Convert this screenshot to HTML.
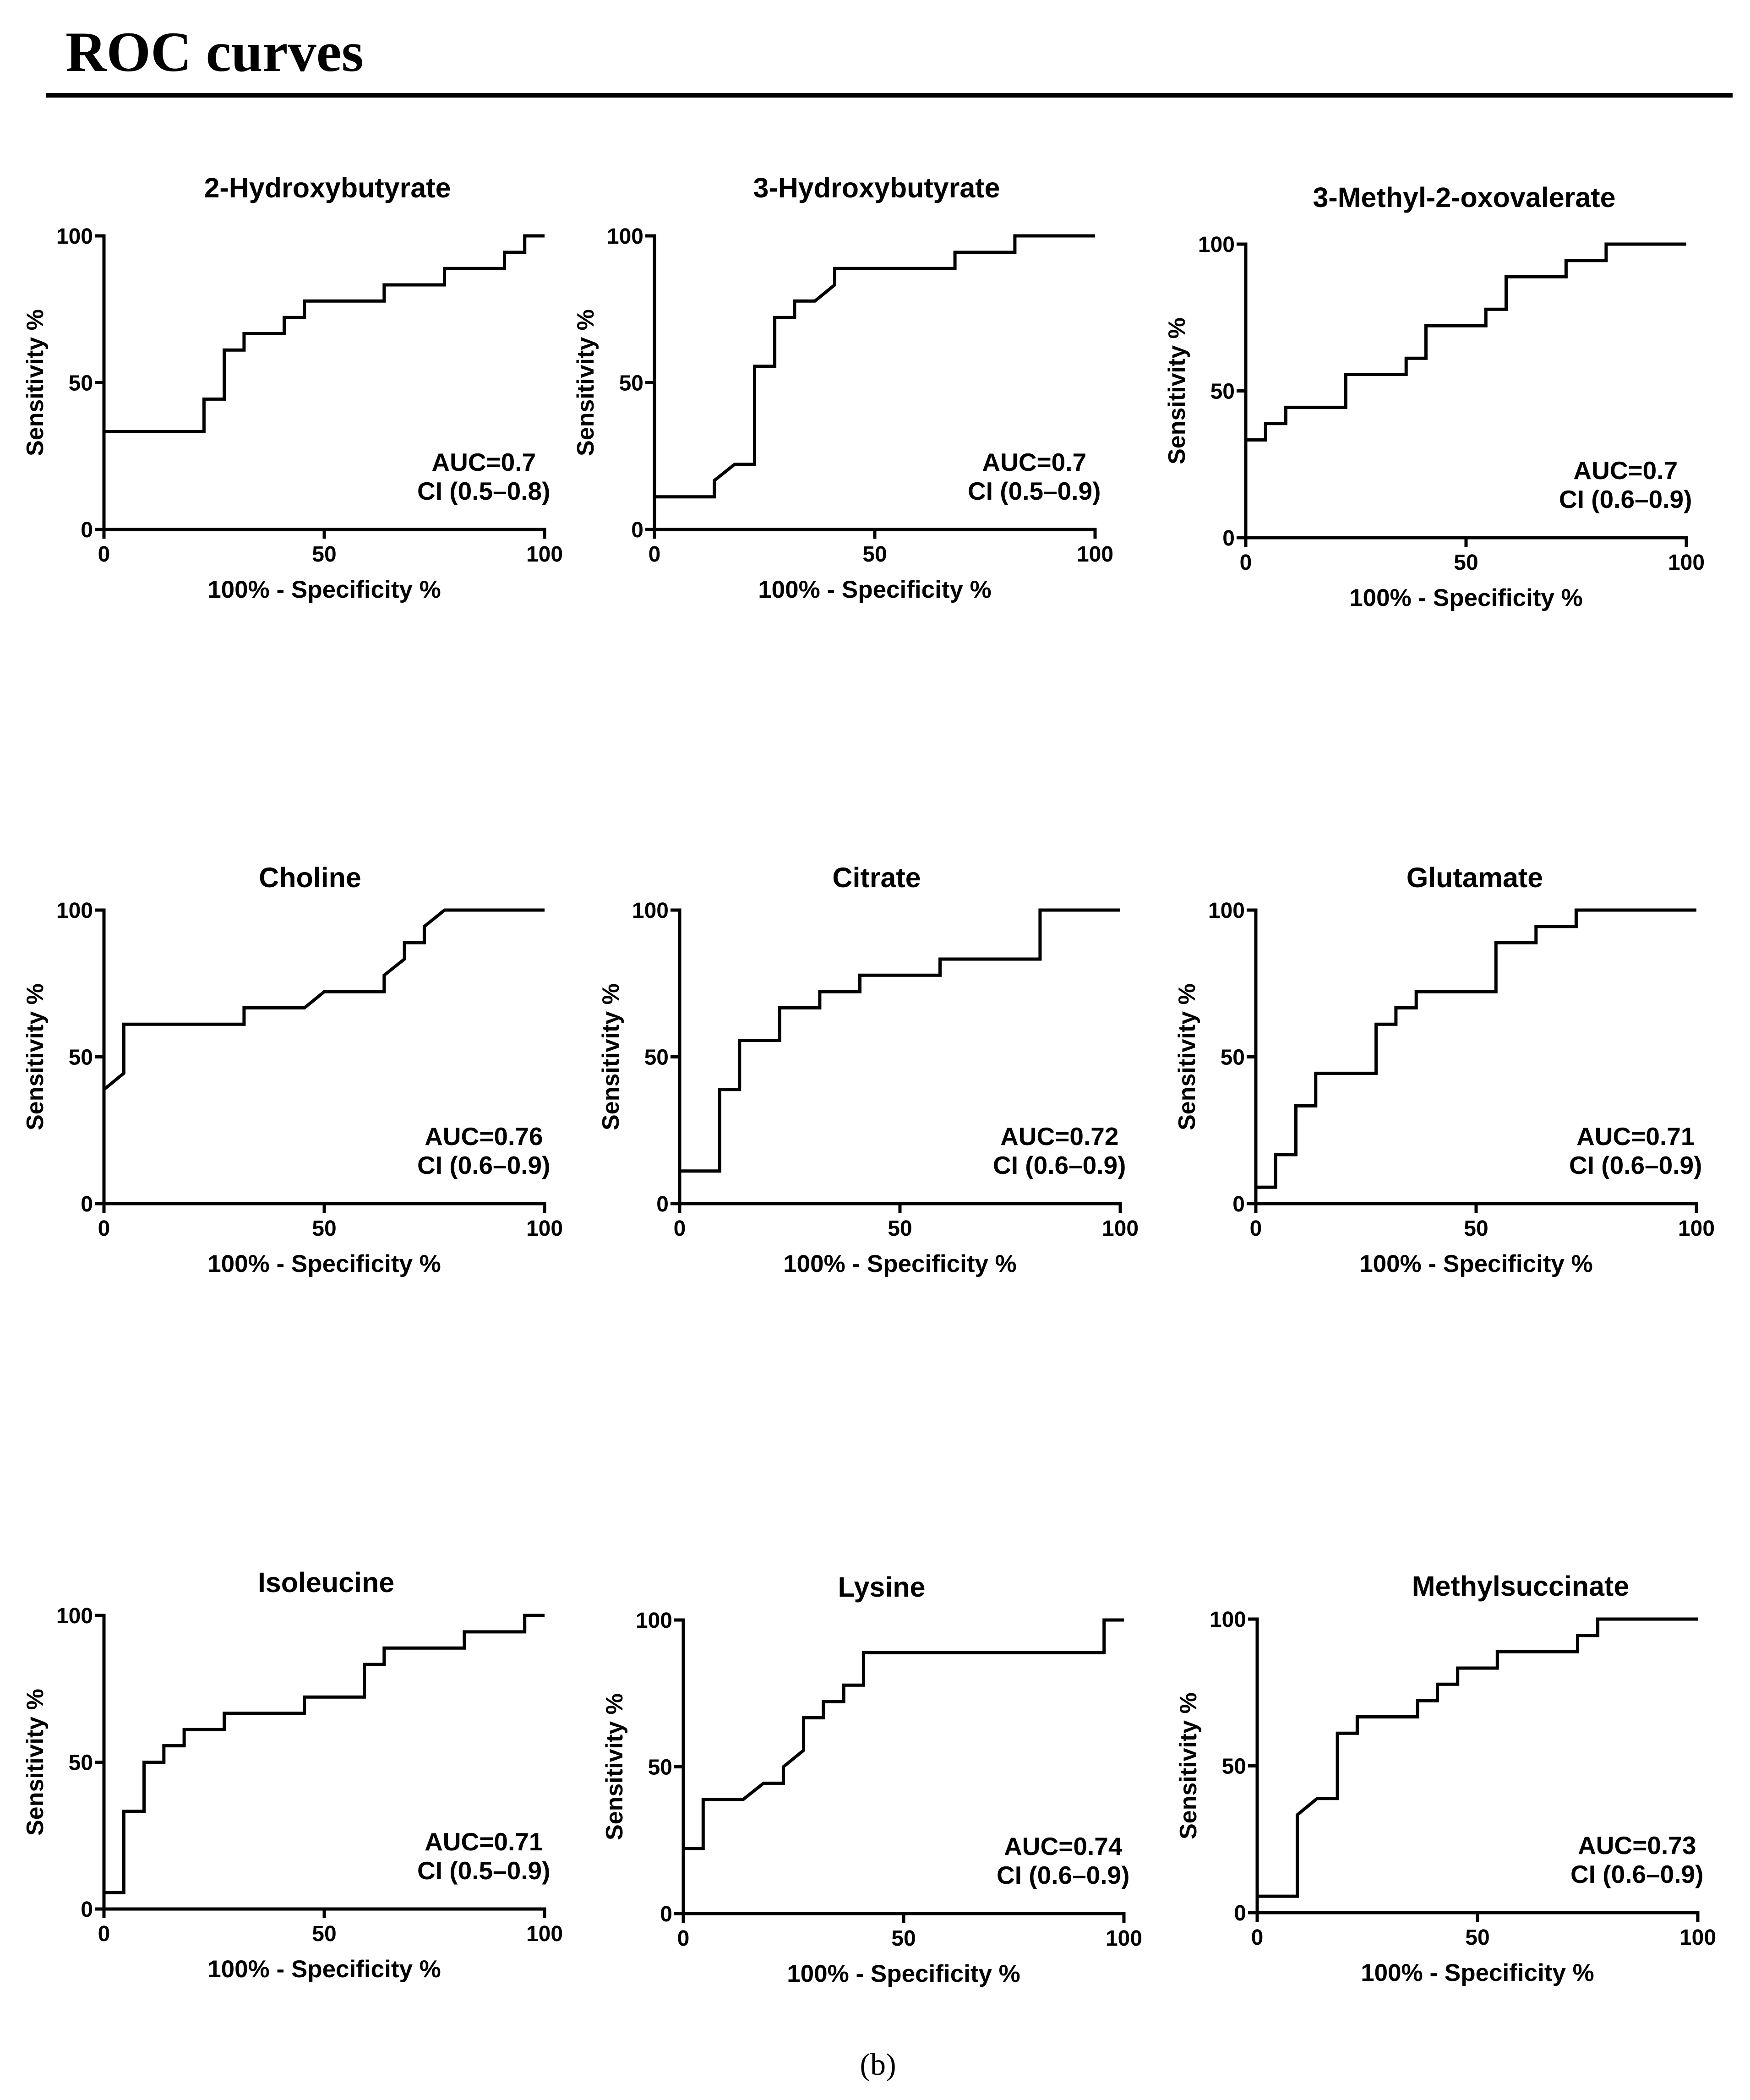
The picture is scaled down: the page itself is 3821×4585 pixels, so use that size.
<!DOCTYPE html>
<html><head><meta charset="utf-8">
<style>
html,body{margin:0;padding:0;background:#fff;}
svg{display:block;}
text{font-family:"Liberation Sans",Arial,sans-serif;font-weight:bold;fill:#000;}
.serif{font-family:"Liberation Serif","Times New Roman",serif;}
</style></head>
<body>
<svg id="fig" width="3821" height="4585" viewBox="0 0 3821 4585" xmlns="http://www.w3.org/2000/svg">
<rect width="3821" height="4585" fill="#fff"/>
<text class="serif" x="143" y="155" font-size="124">ROC curves</text>
<rect x="100" y="203" width="3683" height="10" fill="#000"/>
<text class="serif" x="1917" y="4530" font-size="68" text-anchor="middle" style="font-weight:normal">(b)</text>
</svg>
<script>
const names=["2-Hydroxybutyrate","3-Hydroxybutyrate","3-Methyl-2-oxovalerate","Choline","Citrate","Glutamate","Isoleucine","Lysine","Methylsuccinate"];
const aucs=["AUC=0.7","AUC=0.7","AUC=0.7","AUC=0.76","AUC=0.72","AUC=0.71","AUC=0.71","AUC=0.74","AUC=0.73"];
const cis=["CI (0.5\u20130.8)","CI (0.5\u20130.9)","CI (0.6\u20130.9)","CI (0.6\u20130.9)","CI (0.6\u20130.9)","CI (0.6\u20130.9)","CI (0.5\u20130.9)","CI (0.6\u20130.9)","CI (0.6\u20130.9)"];
const tickValues=[0,50,100];
const tickLabels=["0","50","100"];
const p1x=[0,0,22.7,22.7,27.3,27.3,31.8,31.8,40.9,40.9,45.5,45.5,63.6,63.6,77.3,77.3,90.9,90.9,95.5,95.5,100];
const p1y=[0,33.3,33.3,44.4,44.4,61.1,61.1,66.7,66.7,72.2,72.2,77.8,77.8,83.3,83.3,88.9,88.9,94.4,94.4,100,100];
const p2x=[0,0,13.6,13.6,18.2,22.7,22.7,27.3,27.3,31.8,31.8,36.4,40.9,40.9,68.2,68.2,81.8,81.8,100];
const p2y=[0,11.1,11.1,16.7,22.2,22.2,55.6,55.6,72.2,72.2,77.8,77.8,83.3,88.9,88.9,94.4,94.4,100,100];
const p3x=[0,0,4.5,4.5,9.1,9.1,22.7,22.7,36.4,36.4,40.9,40.9,54.5,54.5,59.1,59.1,72.7,72.7,81.8,81.8,100];
const p3y=[0,33.3,33.3,38.9,38.9,44.4,44.4,55.6,55.6,61.1,61.1,72.2,72.2,77.8,77.8,88.9,88.9,94.4,94.4,100,100];
const p4x=[0,0,4.5,4.5,31.8,31.8,45.5,50,63.6,63.6,68.2,68.2,72.7,72.7,77.3,100];
const p4y=[0,38.9,44.4,61.1,61.1,66.7,66.7,72.2,72.2,77.8,83.3,88.9,88.9,94.4,100,100];
const p5x=[0,0,9.1,9.1,13.6,13.6,22.7,22.7,31.8,31.8,40.9,40.9,59.1,59.1,81.8,81.8,100];
const p5y=[0,11.1,11.1,38.9,38.9,55.6,55.6,66.7,66.7,72.2,72.2,77.8,77.8,83.3,83.3,100,100];
const p6x=[0,0,4.5,4.5,9.1,9.1,13.6,13.6,27.3,27.3,31.8,31.8,36.4,36.4,54.5,54.5,63.6,63.6,72.7,72.7,100];
const p6y=[0,5.6,5.6,16.7,16.7,33.3,33.3,44.4,44.4,61.1,61.1,66.7,66.7,72.2,72.2,88.9,88.9,94.4,94.4,100,100];
const p7x=[0,0,4.5,4.5,9.1,9.1,13.6,13.6,18.2,18.2,27.3,27.3,45.5,45.5,59.1,59.1,63.6,63.6,81.8,81.8,95.5,95.5,100];
const p7y=[0,5.6,5.6,33.3,33.3,50,50,55.6,55.6,61.1,61.1,66.7,66.7,72.2,72.2,83.3,83.3,88.9,88.9,94.4,94.4,100,100];
const p8x=[0,0,4.5,4.5,13.6,18.2,22.7,22.7,27.3,27.3,31.8,31.8,36.4,36.4,40.9,40.9,95.5,95.5,100];
const p8y=[0,22.2,22.2,38.9,38.9,44.4,44.4,50,55.6,66.7,66.7,72.2,72.2,77.8,77.8,88.9,88.9,100,100];
const p9x=[0,0,9.1,9.1,13.6,18.2,18.2,22.7,22.7,36.4,36.4,40.9,40.9,45.5,45.5,54.5,54.5,72.7,72.7,77.3,77.3,100];
const p9y=[0,5.6,5.6,33.3,38.9,38.9,61.1,61.1,66.7,66.7,72.2,72.2,77.8,77.8,83.3,83.3,88.9,88.9,94.4,94.4,100,100];
const seriesX=[p1x,p2x,p3x,p4x,p5x,p6x,p7x,p8x,p9x];
const seriesY=[p1y,p2y,p3y,p4y,p5y,p6y,p7y,p8y,p9y];

const layout=[
 {x0:227,y100:515,tx:715,ty:431},
 {x0:1429,y100:515,tx:1914,ty:431},
 {x0:2720,y100:533,tx:3197,ty:452},
 {x0:227,y100:1987,tx:677,ty:1937},
 {x0:1484,y100:1987,tx:1914,ty:1937},
 {x0:2742,y100:1987,tx:3220,ty:1937},
 {x0:227,y100:3527,tx:712,ty:3476},
 {x0:1492,y100:3537,tx:1925,ty:3486},
 {x0:2745,y100:3535,tx:3320,ty:3484}
];
const W=962,H=641;
const NS="http://www.w3.org/2000/svg";
const svg=document.getElementById('fig');
function mk(tag,attrs,parent){const e=document.createElementNS(NS,tag);for(const k in attrs)e.setAttribute(k,attrs[k]);(parent||svg).appendChild(e);return e;}

layout.forEach((L,i)=>{
  const g=mk('g',{});
  
  
  const xs=v=>L.x0+v/100*W;
  const ys=v=>L.y100+H-v/100*H;
  const y0=L.y100+H;
  const t=mk('text',{x:L.tx,y:L.ty,'font-size':61,'text-anchor':'middle'},g);
  t.textContent=names[i];
  
  
  const xa=mk('line',{x1:L.x0,y1:y0,x2:L.x0+W,y2:y0,stroke:'#000','stroke-width':7,'stroke-linecap':'square'},g);
  
  
  const ya=mk('line',{x1:L.x0,y1:L.y100,x2:L.x0,y2:y0,stroke:'#000','stroke-width':7,'stroke-linecap':'square'},g);
  
  
  tickValues.forEach((v,k)=>{
    const tx=mk('line',{x1:xs(v),y1:y0,x2:xs(v),y2:y0+20,stroke:'#000','stroke-width':7},g);
    
    
    const lx=mk('text',{x:xs(v),y:y0+70,'font-size':48,'text-anchor':'middle'},g);
    lx.textContent=tickLabels[k];
    
    
    const ty=mk('line',{x1:L.x0-20,y1:ys(v),x2:L.x0,y2:ys(v),stroke:'#000','stroke-width':7},g);
    
    
    const ly=mk('text',{x:L.x0-24,y:ys(v)+17,'font-size':48,'text-anchor':'end'},g);
    ly.textContent=tickLabels[k];
    
    
  });
  const xt=mk('text',{x:L.x0+W/2,y:y0+149,'font-size':53,'text-anchor':'middle'},g);
  xt.textContent='100% - Specificity %';
  
  
  const cy=L.y100+H/2, cx=L.x0-150;
  const yt=mk('text',{x:cx,y:cy,'font-size':52,'text-anchor':'middle','dominant-baseline':'central',transform:'rotate(-90 '+cx+' '+cy+')'},g);
  yt.textContent='Sensitivity %';
  
  
  const X=seriesX[i],Y=seriesY[i];
  const pts=X.map((v,k)=>xs(v).toFixed(1)+','+ys(Y[k]).toFixed(1)).join(' ');
  const pl=mk('polyline',{points:pts,fill:'none',stroke:'#000','stroke-width':7,'stroke-linejoin':'miter'},g);
  
  
  const ax=L.x0+0.862*W;
  const a1=mk('text',{x:ax,y:y0-128,'font-size':55,'text-anchor':'middle'},g);
  a1.textContent=aucs[i];
  
  
  const a2=mk('text',{x:ax,y:y0-65,'font-size':55,'text-anchor':'middle'},g);
  a2.textContent=cis[i];
  
  
});
</script>
</body></html>
